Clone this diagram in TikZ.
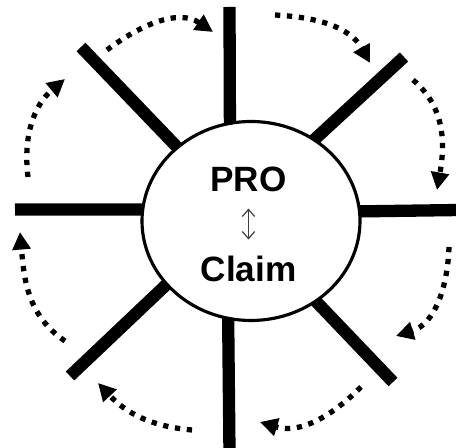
\documentclass[tikz,border=0pt]{standalone}
\usepackage{fontspec}
\setmainfont{Liberation Sans}
\usetikzlibrary{arrows.meta,shapes.geometric,backgrounds}
\tikzset{
  hub/.style={ellipse,draw,line width=1.8pt,fill=white,minimum width=4.36cm,minimum height=3.98cm,inner sep=0pt},
  spoke/.style={line width=7pt,shorten >=-6pt},
  turn/.style={line width=3pt,dash pattern=on 3pt off 3.8pt,-{Triangle[length=10pt,width=10pt]}},
  word/.style={font=\fontsize{20}{24}\selectfont\bfseries,inner sep=0pt,anchor=base},
  swap/.style={line width=0.7pt,black!75,{Straight Barb[length=4pt,width=7pt]}-{Straight Barb[length=4pt,width=7pt]}}
}

\begin{document}
\begin{tikzpicture}
  \useasboundingbox (0,0) rectangle (9.12,8.96);
  \node[hub] (hub) at (5.02,4.54) {};
  \node[word] (pro) at (4.97,5.126) {PRO};
  \node[word] (claim) at (4.97,3.326) {Claim};
  \draw[swap,shorten <=9.2pt,shorten >=9.3pt] (pro.south) -- (claim.north);
  % outer ends of the eight spokes
  \coordinate (n) at (4.59,8.82);
  \coordinate (s) at (4.59,-0.1);
  \coordinate (w) at (0.30,4.77);
  \coordinate (e) at (9.20,4.76);
  \coordinate (nw) at (1.62,8.02);
  \coordinate (ne) at (8.08,7.82);
  \coordinate (sw) at (1.40,1.44);
  \coordinate (se) at (7.86,1.32);
  \begin{scope}[on background layer]
    \draw[spoke] (n) -- (hub.102.4);
    \draw[spoke] (s) -- (hub.257.7);
    \draw[spoke] (w) -- (hub.174);
    \draw[spoke] (e) -- (hub.5.8);
    \draw[spoke] (nw) -- (hub.135.8);
    \draw[spoke] (ne) -- (hub.52.4);
    \draw[spoke] (sw) -- (hub.217.7);
    \draw[spoke] (se) -- (hub.309.8);
  \end{scope}
  % dotted turns, clockwise between the spokes
  \coordinate (t1a) at (0.56,5.42); \coordinate (t1b) at (1.30,7.38);
  \coordinate (t2a) at (2.14,7.96); \coordinate (t2b) at (4.26,8.32);
  \coordinate (t3a) at (5.50,8.66); \coordinate (t3b) at (7.40,7.70);
  \coordinate (t4a) at (8.26,7.36); \coordinate (t4b) at (8.74,5.16);
  \coordinate (t5a) at (8.98,4.02); \coordinate (t5b) at (7.92,2.24);
  \coordinate (t6a) at (7.22,1.22); \coordinate (t6b) at (5.20,0.52);
  \coordinate (t7a) at (3.84,0.36); \coordinate (t7b) at (1.96,1.30);
  \coordinate (t8a) at (1.30,2.14); \coordinate (t8b) at (0.40,4.32);
  \draw[turn] (t1a) to[out=97,in=220] (t1b);
  \draw[turn] (t2a) to[out=37,in=146] (t2b);
  \draw[turn] (t3a) to[out=-3,in=119] (t3b);
  \draw[turn] (t4a) to[out=-40,in=80] (t4b);
  \draw[turn] (t5a) to[out=-92,in=17] (t5b);
  \draw[turn] (t6a) to[out=225,in=343] (t6b);
  \draw[turn] (t7a) to[out=175,in=313] (t7b);
  \draw[turn] (t8a) to[out=146,in=275] (t8b);
\end{tikzpicture}
\end{document}
